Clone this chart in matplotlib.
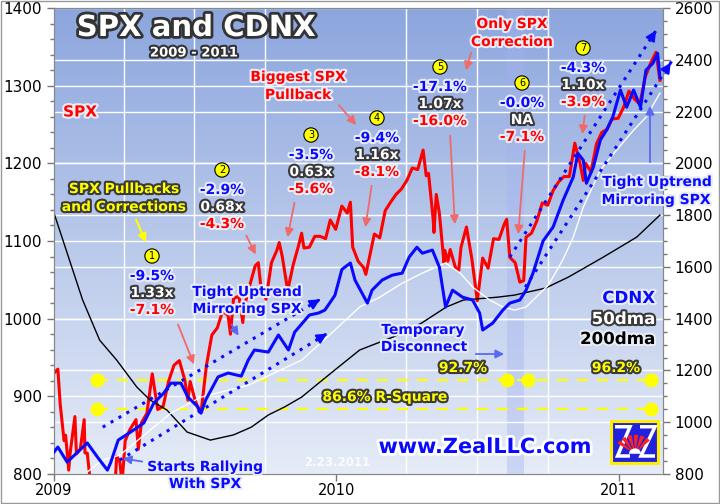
import matplotlib
matplotlib.use('Agg')
import matplotlib.pyplot as plt
import matplotlib.dates as mdates
import matplotlib.patheffects as pe
from matplotlib.transforms import blended_transform_factory
from matplotlib.patches import Rectangle, Wedge, Polygon
import numpy as np
import pandas as pd

# SPX closes (left axis)
spx_dates = ['2009-01-02', '2009-01-06', '2009-01-09', '2009-01-14', '2009-01-16', '2009-01-20',
             '2009-01-22', '2009-01-28', '2009-01-30', '2009-02-04', '2009-02-09', '2009-02-10',
             '2009-02-13', '2009-02-17', '2009-02-20', '2009-02-27', '2009-03-06', '2009-03-09',
             '2009-03-13', '2009-03-20', '2009-03-23', '2009-03-27', '2009-03-30', '2009-04-03',
             '2009-04-09', '2009-04-17', '2009-04-20', '2009-04-24', '2009-05-01', '2009-05-08',
             '2009-05-15', '2009-05-22', '2009-05-29', '2009-06-05', '2009-06-12', '2009-06-19',
             '2009-06-23', '2009-06-26', '2009-07-02', '2009-07-08', '2009-07-10', '2009-07-17',
             '2009-07-24', '2009-07-31', '2009-08-07', '2009-08-14', '2009-08-17', '2009-08-21',
             '2009-08-28', '2009-09-02', '2009-09-04', '2009-09-11', '2009-09-18', '2009-09-22',
             '2009-09-25', '2009-10-02', '2009-10-09', '2009-10-16', '2009-10-19', '2009-10-23',
             '2009-10-30', '2009-11-06', '2009-11-13', '2009-11-17', '2009-11-20', '2009-11-27',
             '2009-12-04', '2009-12-11', '2009-12-18', '2009-12-24', '2009-12-31',
             '2010-01-08', '2010-01-15', '2010-01-19', '2010-01-22', '2010-01-29', '2010-02-05',
             '2010-02-08', '2010-02-12', '2010-02-19', '2010-02-26', '2010-03-05', '2010-03-12',
             '2010-03-19', '2010-03-26', '2010-04-02', '2010-04-09', '2010-04-16', '2010-04-23',
             '2010-04-27', '2010-04-30', '2010-05-06', '2010-05-07', '2010-05-10', '2010-05-14',
             '2010-05-20', '2010-05-21', '2010-05-25', '2010-05-28', '2010-06-04', '2010-06-08',
             '2010-06-11', '2010-06-18', '2010-06-25', '2010-07-02', '2010-07-09', '2010-07-16',
             '2010-07-23', '2010-07-30', '2010-08-06', '2010-08-09', '2010-08-13', '2010-08-20',
             '2010-08-26', '2010-08-31', '2010-09-03', '2010-09-10', '2010-09-17', '2010-09-24',
             '2010-10-01', '2010-10-08', '2010-10-15', '2010-10-22', '2010-10-29', '2010-11-05',
             '2010-11-12', '2010-11-16', '2010-11-19', '2010-11-26', '2010-12-03', '2010-12-10',
             '2010-12-17', '2010-12-23', '2010-12-31', '2011-01-07', '2011-01-14', '2011-01-21',
             '2011-01-28', '2011-02-04', '2011-02-11', '2011-02-18', '2011-02-22', '2011-02-23']
spx_vals = [931, 935, 890, 843, 850, 805,
            828, 874, 826, 832, 870, 827,
            827, 789, 770, 735, 683, 677,
            757, 769, 823, 816, 788, 843,
            857, 870, 832, 866, 878, 929,
            883, 887, 919, 940, 946, 921,
            895, 919, 896, 880, 879, 940,
            979, 988, 1010, 1004, 980, 1026,
            1029, 995, 1016, 1043, 1068, 1072,
            1044, 1025, 1072, 1088, 1098, 1080,
            1036, 1069, 1094, 1110, 1091, 1092,
            1106, 1106, 1103, 1127, 1115,
            1145, 1136, 1150, 1092, 1074, 1066,
            1057, 1076, 1109, 1104, 1139, 1150,
            1160, 1167, 1178, 1194, 1192, 1217,
            1184, 1187, 1128, 1111, 1160, 1136,
            1072, 1088, 1074, 1089, 1065, 1062,
            1092, 1118, 1077, 1023, 1078, 1065,
            1103, 1102, 1122, 1128, 1079, 1072,
            1047, 1049, 1105, 1110, 1126, 1149,
            1146, 1165, 1176, 1183, 1183, 1226,
            1199, 1178, 1200, 1189, 1225, 1240,
            1244, 1257, 1258, 1272, 1293, 1283,
            1276, 1311, 1329, 1343, 1315, 1307]

# CDNX (right axis)
cdnx_dates = ['2009-01-01', '2009-01-06', '2009-01-18', '2009-02-13', '2009-02-26', '2009-03-11',
              '2009-03-15', '2009-03-25', '2009-04-14', '2009-04-27', '2009-05-10', '2009-05-23',
              '2009-06-01', '2009-06-14', '2009-06-23', '2009-07-06', '2009-07-10', '2009-07-16',
              '2009-08-01', '2009-08-14', '2009-08-31', '2009-09-09', '2009-09-17', '2009-10-05',
              '2009-10-18', '2009-10-31', '2009-11-08', '2009-11-27', '2009-12-09', '2009-12-17',
              '2009-12-30', '2010-01-08', '2010-01-19', '2010-01-25', '2010-02-03', '2010-02-10',
              '2010-02-16', '2010-03-01', '2010-03-14', '2010-03-27', '2010-04-05', '2010-04-15',
              '2010-04-22', '2010-05-05', '2010-05-14', '2010-05-22', '2010-05-31', '2010-06-13',
              '2010-06-26', '2010-07-05', '2010-07-09', '2010-07-22', '2010-08-04', '2010-08-13',
              '2010-08-26', '2010-09-03', '2010-09-12', '2010-09-25', '2010-10-08', '2010-10-21',
              '2010-11-03', '2010-11-09', '2010-11-16', '2010-11-20', '2010-11-29', '2010-12-08',
              '2010-12-16', '2010-12-24', '2011-01-03', '2011-01-11', '2011-01-20', '2011-01-29',
              '2011-02-05', '2011-02-14', '2011-02-20', '2011-02-23']
cdnx_vals = [885, 904, 846, 920, 866, 815,
             842, 931, 970, 997, 1074, 1113,
             1151, 1151, 1097, 1059, 1035, 1086,
             1175, 1190, 1178, 1240, 1279, 1271,
             1337, 1279, 1348, 1414, 1422, 1433,
             1490, 1590, 1615, 1549, 1499, 1460,
             1510, 1549, 1568, 1576, 1638, 1676,
             1653, 1665, 1599, 1445, 1510, 1483,
             1472, 1422, 1356, 1383, 1433, 1460,
             1472, 1510, 1576, 1700, 1754, 1858,
             1947, 2039, 2012, 1923, 1985, 2090,
             2128, 2178, 2283, 2217, 2283, 2217,
             2360, 2387, 2425, 2333]

ma50_dates = ['2009-02-13', '2009-03-05', '2009-03-27', '2009-06-01', '2009-07-10', '2009-09-09',
              '2009-11-17', '2009-12-30', '2010-01-31', '2010-02-26', '2010-03-27', '2010-04-22',
              '2010-05-22', '2010-06-10', '2010-06-26', '2010-07-18', '2010-08-04', '2010-08-19',
              '2010-09-03', '2010-09-16', '2010-10-02', '2010-10-21', '2010-11-03', '2010-11-16',
              '2010-12-08', '2010-12-29', '2011-01-20', '2011-02-05', '2011-02-23']
ma50_vals = [808, 854, 873, 1035, 1097, 1143,
             1240, 1356, 1445, 1483, 1537, 1576,
             1615, 1576, 1522, 1472, 1445, 1433,
             1445, 1483, 1530, 1630, 1715, 1831,
             1974, 2051, 2128, 2178, 2271]

ma200_dates = ['2009-01-01', '2009-02-07', '2009-03-01', '2009-03-23', '2009-04-18', '2009-05-05',
               '2009-05-27', '2009-06-22', '2009-07-22', '2009-08-21', '2009-09-13', '2009-10-05',
               '2009-10-26', '2009-11-17', '2009-12-09', '2009-12-30', '2010-01-31', '2010-03-15',
               '2010-04-21', '2010-05-23', '2010-06-14', '2010-07-28', '2010-08-19', '2010-09-28',
               '2010-10-28', '2010-12-12', '2011-01-24', '2011-02-23']
ma200_vals = [1808, 1472, 1317, 1240, 1136, 1086,
              1047, 962, 931, 951, 981, 1028,
              1059, 1097, 1151, 1202, 1279, 1329,
              1383, 1445, 1472, 1483, 1491, 1518,
              1561, 1638, 1715, 1800]

# dotted trend channels on CDNX scale: (start date, start val, end date, end val)
channels = [('2009-03-05', 981, '2009-12-14', 1480),
            ('2009-03-27', 854, '2009-12-23', 1348),
            ('2010-08-13', 1638, '2011-02-20', 2522),
            ('2010-09-02', 1522, '2011-03-11', 2398)]

# R-square guide lines on CDNX scale
rsq_levels = [1163, 1051]
rsq_upper_dots = ['2009-02-26', '2010-08-10', '2010-09-06', '2011-02-11']
rsq_lower_dots = ['2009-02-26', '2011-02-11']

band = ('2010-08-10', '2010-08-31')

stats = [('1', '-9.5%', '1.33x', '-7.1%'), ('2', '-2.9%', '0.68x', '-4.3%'),
         ('3', '-3.5%', '0.63x', '-5.6%'), ('4', '-9.4%', '1.16x', '-8.1%'),
         ('5', '-17.1%', '1.07x', '-16.0%'), ('6', '-0.0%', 'NA', '-7.1%'),
         ('7', '-4.3%', '1.10x', '-3.9%')]
stat_pos = [(152, 256), (222, 170), (311, 135), (377, 118), (440, 67), (522, 83), (583, 48)]

RED = '#ff0000'
BLUE = '#0a0aff'

fig = plt.figure(figsize=(7.2, 5.04), dpi=100)
L, R, T, B = 54, 663, 8, 474
ax = fig.add_axes([L / 720, (504 - B) / 504, (R - L) / 720, (B - T) / 504])
ax2 = ax.twinx()

def P(x, y):
    return ((x - L) / (R - L), (B - y) / (B - T))

d = pd.to_datetime
ax.set_xlim(d('2009-01-01'), d('2011-02-27'))
ax.set_ylim(800, 1400)
ax2.set_ylim(800, 2600)

# background gradient
grad = np.linspace(0, 1, 256).reshape(-1, 1)
top = np.array([0.55, 0.65, 0.87])
bot = np.array([0.90, 0.925, 0.97])
img = top + (bot - top) * grad[:, :, None] * np.ones((1, 1, 3))
ax.imshow(img, extent=[0, 1, 0, 1], transform=ax.transAxes, aspect='auto', zorder=0)
ax.axvspan(d(band[0]), d(band[1]), color='#a4b2f0', alpha=0.4, zorder=0.5, lw=0)

# ticks and grid
ax.xaxis.set_major_locator(mdates.YearLocator())
ax.xaxis.set_major_formatter(mdates.DateFormatter('%Y'))
ax.xaxis.set_minor_locator(mdates.MonthLocator(bymonth=[1, 4, 7, 10]))
ax.yaxis.set_major_locator(plt.MultipleLocator(100))
ax.yaxis.set_minor_locator(plt.MultipleLocator(20))
ax2.yaxis.set_major_locator(plt.MultipleLocator(200))
ax2.yaxis.set_minor_locator(plt.MultipleLocator(50))
for a in (ax, ax2):
    a.tick_params(which='major', length=5, color='#777777', labelsize=11, width=1)
    a.tick_params(which='minor', length=3, color='#777777', width=1)
    for s in a.spines.values():
        s.set_color('#888888')
ax.tick_params(axis='x', which='minor', length=0)
ax.tick_params(axis='x', which='major', length=5, pad=1.5, labelsize=10.5)
ax.grid(True, which='minor', axis='x', color='white', lw=1, zorder=1)
ax.grid(True, which='major', axis='y', color='white', lw=1, zorder=1)
ax.set_axisbelow(True)
# right-axis grid lines drawn on the lower axes so that they stay behind the lines
btr = blended_transform_factory(ax.transAxes, ax2.transData)
for v in np.arange(1000, 2600, 200):
    ax.plot([0, 1], [v, v], transform=btr, color='white', lw=1, zorder=1)

# R-square guides
for lev in rsq_levels:
    ax.plot([d(rsq_upper_dots[0]), d(rsq_upper_dots[-1])], [lev, lev], transform=ax2.transData,
            color='#ffff00', lw=1.6, ls=(0, (5, 4)), zorder=2)
ax.plot(d(rsq_upper_dots), [rsq_levels[0]] * len(rsq_upper_dots), 'o', color='#ffff00',
        ms=9, transform=ax2.transData, zorder=2)
ax.plot(d(rsq_lower_dots), [rsq_levels[1]] * len(rsq_lower_dots), 'o', color='#ffff00',
        ms=9, transform=ax2.transData, zorder=2)

# SPX
ax.plot(d(spx_dates), spx_vals, color=RED, lw=2.2, zorder=3)

# CDNX and averages
ax2.plot(d(ma200_dates), ma200_vals, color='black', lw=1.0, zorder=2)
ax2.plot(d(ma50_dates), ma50_vals, color='white', lw=1.0, zorder=2)
ax2.plot(d(cdnx_dates), cdnx_vals, color=BLUE, lw=2.2, zorder=3)

for sd, sv, ed, ev in channels:
    ax2.plot([d(sd), d(ed)], [sv, ev], color=BLUE, lw=2.2, ls=(0, (1, 2)), zorder=4, clip_on=False)
    x0 = mdates.date2num(d(sd)); x1 = mdates.date2num(d(ed))
    ax2.annotate('', xy=(d(ed), ev), xytext=(mdates.num2date(x1 - (x1 - x0) * 0.03), ev - (ev - sv) * 0.03),
                 arrowprops=dict(arrowstyle='-|>,head_length=0.6,head_width=0.3', color=BLUE, lw=1.5),
                 annotation_clip=False, zorder=4)

ax.set_xlim(d('2009-01-01'), d('2011-02-27'))

def txt(s, x, y, color, stroke, size=10, ha='center', lw=3):
    fx, fy = P(x, y)
    ax2.text(fx, fy, s, transform=ax2.transAxes, color=color, fontsize=size, fontweight='bold',
             ha=ha, va='center', zorder=10,
             path_effects=[pe.withStroke(linewidth=lw, foreground=stroke)])

def arrow(x0, y0, x1, y1, color, lw=1.3):
    ax2.annotate('', xy=P(x1, y1), xytext=P(x0, y0), xycoords='axes fraction',
                 textcoords='axes fraction', zorder=9,
                 arrowprops=dict(arrowstyle='-|>,head_length=0.5,head_width=0.25', color=color, lw=lw))

SAL = '#f06a6a'
LBLUE = '#5a6af0'
LIGHT = '#e8ecf5'
DARK = '#3a3a3a'

txt('SPX and CDNX', 196, 28, 'white', '#333333', size=21, lw=4)
txt('2009 - 2011', 194, 53, 'white', '#333333', size=9.5, lw=3)
txt('SPX', 80, 112, RED, LIGHT, size=11)
txt('SPX Pullbacks', 124, 189, '#ffff00', DARK, size=10)
txt('and Corrections', 124, 207, '#ffff00', DARK, size=10)
arrow(135, 217, 147, 245, '#ffff00', lw=1.5)

for (num, a, b, c), (x, y) in zip(stats, stat_pos):
    fx, fy = P(x, y)
    ax2.text(fx, fy, num, transform=ax2.transAxes, fontsize=7, ha='center', va='center',
             zorder=10, bbox=dict(boxstyle='circle,pad=0.22', fc='#ffff00', ec='black', lw=0.8))
    txt(a, x, y + 20, BLUE, LIGHT)
    txt(b, x, y + 37, 'white', DARK)
    txt(c, x, y + 54, RED, LIGHT)

txt('Biggest SPX', 298, 77, RED, LIGHT)
txt('Pullback', 298, 95, RED, LIGHT)
txt('Only SPX', 512, 24, RED, LIGHT)
txt('Correction', 512, 42, RED, LIGHT)

for x0, y0, x1, y1 in [(177, 322, 195, 367), (245, 233, 257, 257), (295, 200, 287, 240),
                       (337, 103, 358, 127), (372, 183, 365, 230), (450, 133, 455, 227),
                       (472, 50, 465, 73), (525, 148, 518, 237), (585, 113, 582, 137)]:
    arrow(x0, y0, x1, y1, SAL)

txt('Tight Uptrend', 247, 292, BLUE, LIGHT)
txt('Mirroring SPX', 247, 309, BLUE, LIGHT)
txt('Tight Uptrend', 657, 182, BLUE, LIGHT)
txt('Mirroring SPX', 656, 200, BLUE, LIGHT)
txt('Temporary', 423, 330, BLUE, LIGHT)
txt('Disconnect', 424, 347, BLUE, LIGHT)
txt('Starts Rallying', 205, 467, BLUE, LIGHT)
txt('With SPX', 205, 484, BLUE, LIGHT)
for x0, y0, x1, y1 in [(230, 322, 240, 338), (145, 462, 120, 458), (473, 354, 507, 354),
                       (650, 165, 650, 103)]:
    arrow(x0, y0, x1, y1, LBLUE)

txt('92.7%', 463, 368, '#ffff00', DARK)
txt('96.2%', 616, 368, '#ffff00', DARK)
txt('86.6% R-Square', 385, 397, '#ffff00', DARK)

fx, fy = P(337, 463)
ax2.text(fx, fy, '2.23.2011', transform=ax2.transAxes, color='white', alpha=0.85,
         fontsize=8.5, fontweight='bold', ha='center', va='center', zorder=10)

txt('www.ZealLLC.com', 485, 447, BLUE, 'white', size=15, lw=4)
txt('CDNX', 655, 298, BLUE, LIGHT, size=12, ha='right')
txt('50dma', 655, 319, 'white', DARK, size=12, ha='right')
txt('200dma', 655, 339, 'black', LIGHT, size=12, ha='right')

# logo
lax = fig.add_axes([610 / 720, (504 - 465) / 504, 50 / 720, 45 / 504])
lax.set_xlim(0, 1); lax.set_ylim(0, 1); lax.axis('off')
lax.add_patch(Rectangle((0.02, 0.02), 0.96, 0.96, fc='#2222dd', ec='#ffee00', lw=3))
lax.add_patch(Polygon([(0.1, 0.85), (0.4, 0.85), (0.15, 0.2), (0.4, 0.2)], closed=False,
                      fill=False, ec='white', lw=2.5))
lax.add_patch(Polygon([(0.6, 0.85), (0.9, 0.85), (0.62, 0.2), (0.9, 0.2)], closed=False,
                      fill=False, ec='white', lw=2.5))
for ang in range(45, 140, 18):
    lax.add_patch(Wedge((0.5, 0.25), 0.42, ang, ang + 12, fc='#ff2020', ec='none'))
lax.add_patch(Wedge((0.5, 0.25), 0.12, 0, 180, fc='white', ec='none'))

fig.patches.append(Rectangle((0.001, 0.001), 0.998, 0.998, transform=fig.transFigure,
                             fill=False, ec='#999999', lw=1))

fig.savefig('out.png', dpi=100)
